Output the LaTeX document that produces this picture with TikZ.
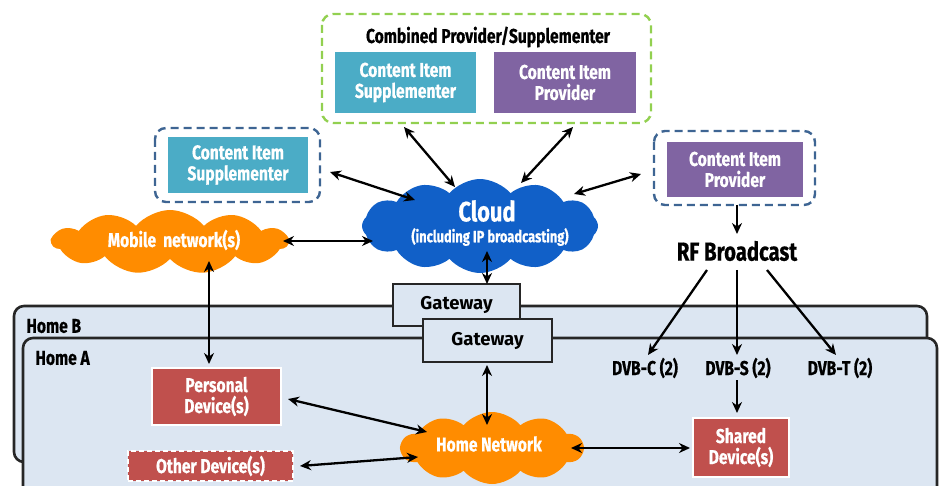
\documentclass[tikz,border=0pt]{standalone}
\usepackage{fontspec}
\setmainfont{Fira Sans}
\newfontfamily\cond{Fira Sans}[FakeStretch=0.78, BoldFeatures={FakeBold=0.6}]
\usetikzlibrary{shapes.symbols,arrows.meta}
\definecolor{teal}{HTML}{4BACC6}
\definecolor{purp}{HTML}{8064A2}
\definecolor{devred}{HTML}{C0504D}
\definecolor{orng}{HTML}{FF8C00}
\definecolor{cloudblue}{HTML}{1160C8}
\definecolor{homefill}{HTML}{DCE6F2}
\definecolor{dashblue}{HTML}{3E6593}
\definecolor{dashgreen}{HTML}{92D050}
\tikzset{
  lbl/.style={font=\cond\bfseries\fontsize{20}{21}\selectfont, align=center},
  solidbox/.style={lbl, text=white, inner sep=0pt},
  groupbox/.style={draw=dashblue, line width=2.4pt, dash pattern=on 8pt off 5pt, rounded corners=11pt, fill=white},
  home/.style={draw=black!85, line width=2.6pt, fill=homefill, rounded corners=10pt},
  gate/.style={draw=black!85, line width=2.6pt, fill=homefill, font=\bfseries\fontsize{18.5}{20}\selectfont, inner sep=0pt},
  puff/.style={cloud, cloud puffs=11, cloud puff arc=100, inner sep=0pt},
  link/.style={line width=2.3pt, {Stealth[length=11pt,width=10pt]}-{Stealth[length=11pt,width=10pt]}},
  oneway/.style={line width=2.3pt, -{Stealth[length=11pt,width=10pt]}},
}
\begin{document}
\begin{tikzpicture}[x=1pt,y=-1pt]
\useasboundingbox (0,0) rectangle (942,486);

% homes
\draw[home] (14,306) rectangle (927,462);
\node[lbl, anchor=west] (homeB) at (23,326) {Home B};
\draw[home] (23,338) rectangle (937,500);
\node[lbl, anchor=west] (homeA) at (32,358) {Home A};

% gateways
\node[gate, minimum width=127, minimum height=42] (gwB) at (456.5,305) {Gateway};
\node[gate, minimum width=129, minimum height=43] (gwA) at (487.5,340.5) {Gateway};

% combined provider/supplementer group
\draw[groupbox, draw=dashgreen] (322,14) rectangle (651,123);
\node[lbl] (combt) at (488,37) {Combined Provider/Supplementer};
\node[solidbox, fill=teal, minimum width=141, minimum height=61] (cisA) at (405.5,82.5) {Content Item\\Supplementer};
\node[solidbox, fill=purp, minimum width=142, minimum height=61] (cipA) at (565,82.5) {Content Item\\Provider};
\coordinate (combL) at (404,127);
\coordinate (combR) at (573,127);

% left supplementer group
\draw[groupbox] (155,128) rectangle (320,202);
\node[solidbox, fill=teal, minimum width=140, minimum height=56] (cisB) at (238,165) {Content Item\\Supplementer};
\coordinate (suppE) at (330,172);

% right provider group
\draw[groupbox] (654,131) rectangle (815,205);
\node[solidbox, fill=purp, minimum width=136, minimum height=55] (cipB) at (735,169.5) {Content Item\\Provider};
\coordinate (provW) at (641,174);
\coordinate (provS) at (737,205);

% clouds
\node[puff, fill=cloudblue, minimum width=236, minimum height=94, cloud puffs=12] (cloud) at (480,226) {};
\node[lbl, text=white, font=\cond\bfseries\fontsize{28}{30}\selectfont] (cloudt) at (487,211) {Cloud};
\node[lbl, text=white, font=\cond\bfseries\fontsize{16.5}{18}\selectfont] (cloudsub) at (490,237) {(including IP broadcasting)};

\node[puff, fill=orng, minimum width=236, minimum height=64] (mobile) at (170,242) {};
\node[lbl, text=white] (mobilet) at (174,240) {Mobile\, network(s)};

\node[puff, fill=orng, minimum width=182, minimum height=72, cloud puffs=10] (homenet) at (492,448) {};
\node[lbl, text=white] (homenett) at (489,444) {Home Network};

% broadcast
\node[lbl, font=\cond\bfseries\fontsize{26}{28}\selectfont] (rf) at (737,251) {RF Broadcast};
\node[lbl] (dvbc) at (645,368) {DVB-C (2)};
\node[lbl] (dvbs) at (738,368) {DVB-S (2)};
\node[lbl] (dvbt) at (840,368) {DVB-T (2)};

% devices
\node[solidbox, fill=devred, draw=white, line width=1.5pt, minimum width=129, minimum height=57] (pers) at (216.5,396.5) {Personal\\Device(s)};
\node[solidbox, fill=devred, draw=white, line width=1.5pt, dash pattern=on 5pt off 3pt, minimum width=165, minimum height=30] (other) at (210.5,466) {Other Device(s)};
\node[solidbox, fill=devred, draw=white, line width=1.5pt, minimum width=96, minimum height=59] (shared) at (741,447.5) {Shared\\Device(s)};

% connector end points
\coordinate (cloudS) at (487,251);
\coordinate (gwBN) at (487,284);
\coordinate (mobE) at (283,241);
\coordinate (cloudW) at (373,241);
\coordinate (mobS) at (209,261);
\coordinate (persN) at (209,364);
\coordinate (gwAS) at (487,365);
\coordinate (hnN) at (487,425);
\coordinate (persE) at (288,399);
\coordinate (hnNW) at (427,432);
\coordinate (otherE) at (300,466);
\coordinate (hnW) at (418,457);
\coordinate (hnE) at (571,448);
\coordinate (sharedW) at (690,448);
\coordinate (rfN) at (737,234);
\coordinate (rfL) at (707,270);
\coordinate (rfM) at (737,270);
\coordinate (rfR) at (767,270);
\coordinate (dvbcN) at (648,355);
\coordinate (dvbsN) at (737,355);
\coordinate (dvbtN) at (836,355);
\coordinate (dvbsS) at (737,380);
\coordinate (sharedN) at (737,413);

% connectors
\draw[link] (suppE) -- (415,200);
\draw[link] (combL) -- (455,187);
\draw[link] (combR) -- (521,183);
\draw[link] (provW) -- (574,194);
\draw[link] (mobE) -- (cloudW);
\draw[link] (cloudS) -- (gwBN);
\draw[link] (mobS) -- (persN);
\draw[link] (gwAS) -- (hnN);
\draw[link] (persE) -- (hnNW);
\draw[link] (otherE) -- (hnW);
\draw[link] (hnE) -- (sharedW);
\draw[oneway] (provS) -- (rfN);
\draw[oneway] (rfL) -- (dvbcN);
\draw[oneway] (rfM) -- (dvbsN);
\draw[oneway] (rfR) -- (dvbtN);
\draw[oneway] (dvbsS) -- (sharedN);
\end{tikzpicture}
\end{document}
